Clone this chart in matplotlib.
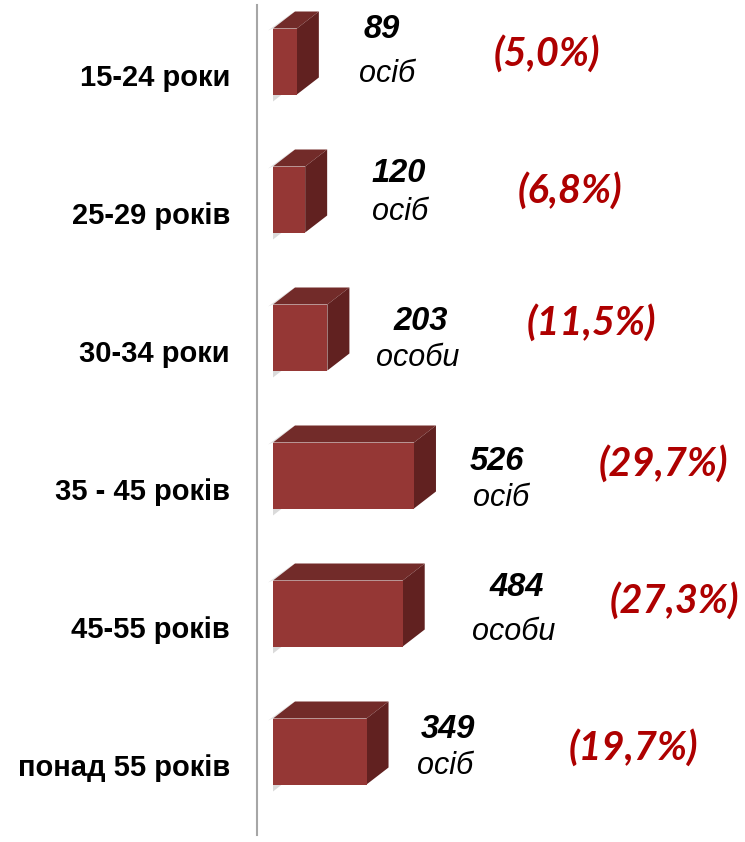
import matplotlib.pyplot as plt
from matplotlib.patches import Polygon, Rectangle

# data
groups = ['15-24 роки', '25-29 років', '30-34 роки', '35 - 45 років', '45-55 років', 'понад 55 років']
counts = [89, 120, 203, 526, 484, 349]
units = ['осіб', 'осіб', 'особи', 'осіб', 'особи', 'осіб']
shares = ['(5,0%)', '(6,8%)', '(11,5%)', '(29,7%)', '(27,3%)', '(19,7%)']

# hand placed label nudges, pixels (x from bar end, y from row centre)
num_nudge = [(63, 23), (71, 18), (71, 8), (61, 6), (92, 18), (59, 14)]
unit_nudge = [(68, -21), (73, -21), (68, -28), (65, -30), (89, -27), (57, -22)]
pct_nudge = [(228, -4), (243, -3), (242, 3), (227, 0), (250, 1), (245, -8)]

front_c = '#953735'
top_c = '#722B29'
side_c = '#612120'
red_txt = '#AE0000'

W, H = 745, 842
fig = plt.figure(figsize=(W / 100, H / 100), dpi=100)
ax = fig.add_axes([257 / W, 7 / H, (W - 257) / W, 830 / H])

ppu = 0.268          # pixels per person
row = 138.0          # pixels per row
ax.set_xlim(-16 / ppu, (W - 273) / ppu)
ax.set_ylim((835 - 61.5) / row, (5 - 61.5) / row)

h = 66 / row
dx = 22 / ppu
dy = -17 / row
gx = 5 / ppu         # width of the little gleam left of the top face

for i, v in enumerate(counts):
    y0 = i - h / 2
    y1 = i + h / 2
    # soft shading round the left edge, like the office 3d bars
    ax.add_patch(Polygon([(-gx, y0 + 2 / row), (0, y0), (dx, y0 + dy), (dx - gx, y0 + dy + 3 / row)],
                         closed=True, fc='#E3E3E3', ec='none'))
    ax.add_patch(Polygon([(0, y1), (9 / ppu, y1), (0, y1 + 7 / row)],
                         closed=True, fc='#DADADA', ec='none'))
    ax.add_patch(Polygon([(0, y0), (v, y0), (v + dx, y0 + dy), (dx, y0 + dy)],
                         closed=True, fc=top_c, ec='none'))
    ax.add_patch(Polygon([(v, y0), (v + dx, y0 + dy), (v + dx, y1 + dy), (v, y1)],
                         closed=True, fc=side_c, ec='none'))
    ax.add_patch(Rectangle((0, y0), v, h, fc=front_c, ec='none'))

    ax.annotate(groups[i], xy=(0, i), xytext=(-43, -25), textcoords='offset pixels',
                ha='right', va='baseline', fontsize=21, fontweight='bold',
                family='Liberation Sans')
    end = v + dx
    ax.annotate(str(v), xy=(end, i), xytext=num_nudge[i], textcoords='offset pixels',
                ha='center', va='baseline', fontsize=23.5, fontweight='bold',
                style='italic', family='Liberation Sans')
    ax.annotate(units[i], xy=(end, i), xytext=unit_nudge[i], textcoords='offset pixels',
                ha='center', va='baseline', fontsize=22, style='italic',
                family='Liberation Sans')
    ax.annotate(shares[i], xy=(end, i), xytext=pct_nudge[i], textcoords='offset pixels',
                ha='center', va='baseline', fontsize=28.5, fontweight='bold',
                style='italic', family='Lato', color=red_txt)

for s in ['top', 'right', 'bottom']:
    ax.spines[s].set_visible(False)
ax.spines['left'].set_color('#A6A6A6')
ax.spines['left'].set_linewidth(1.5)
ax.set_xticks([])
ax.set_yticks([])
ax.patch.set_alpha(0)

fig.savefig('out.png', dpi=100)
